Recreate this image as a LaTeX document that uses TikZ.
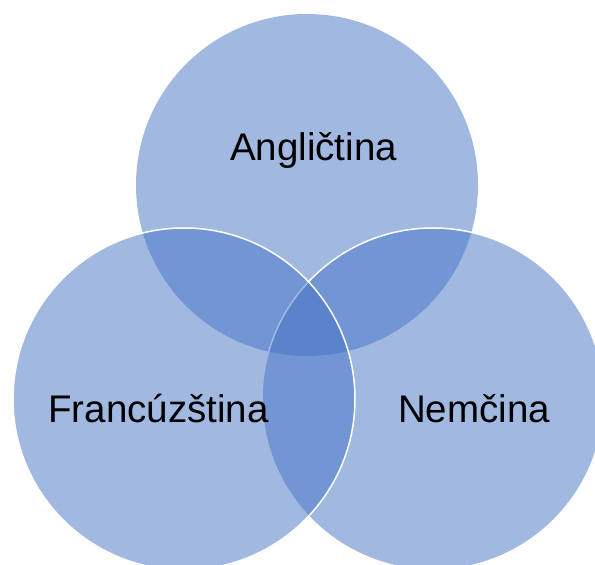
\documentclass[tikz,border=0pt]{standalone}
\usepackage{fontspec}
\setmainfont{Liberation Sans}
\definecolor{accent}{HTML}{4472C4}
\begin{document}
\begin{tikzpicture}[x=1pt,y=1pt,
  venn/.style={circle,minimum size=342pt,inner sep=0pt,fill=accent,fill opacity=0.5},
  vennline/.style={venn,draw=white,draw opacity=1,line width=1.5pt},
  lbl/.style={anchor=base,font=\fontsize{38.5}{46}\selectfont,text=black,inner sep=0pt}]
\useasboundingbox (0,0) rectangle (595,565);
\node[venn] (en) at (307,380) {};
\node[vennline] (de) at (433,166) {};
\node[vennline] (fr) at (184,166) {};
\node[lbl] (ten) at (313.5,404) {Angličtina};
\node[lbl] (tfr) at (158.5,142) {Francúzština};
\node[lbl] (tde) at (474,142) {Nemčina};
\end{tikzpicture}
\end{document}
